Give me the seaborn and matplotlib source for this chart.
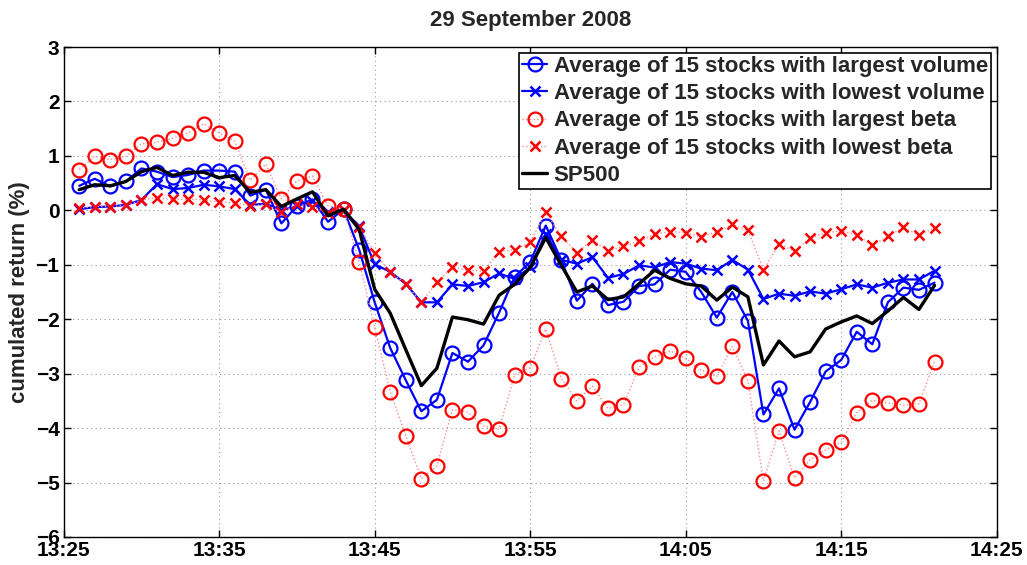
import pandas as pd
import matplotlib
matplotlib.use('Agg')
import matplotlib.pyplot as plt
import matplotlib.dates as mdates
import seaborn as sns

# one value per minute, 13:26 -> 14:21
times = pd.date_range('2008-09-29 13:26', '2008-09-29 14:21', freq='min')

largest_volume = [
    0.45, 0.58, 0.44, 0.53, 0.77, 0.71, 0.61, 0.65, 0.73, 0.73,
    0.71, 0.27, 0.38, -0.24, 0.08, 0.20, -0.21, 0.02, -0.72, -1.69,
    -2.53, -3.12, -3.69, -3.48, -2.62, -2.78, -2.48, -1.88, -1.22, -0.95,
    -0.28, -0.91, -1.66, -1.35, -1.74, -1.68, -1.39, -1.36, -1.09, -1.13,
    -1.50, -1.97, -1.50, -2.03, -3.75, -3.27, -4.03, -3.52, -2.96, -2.75,
    -2.23, -2.46, -1.69, -1.42, -1.46, -1.33,
]

lowest_volume = [
    0.02, 0.06, 0.07, 0.10, 0.19, 0.48, 0.39, 0.41, 0.47, 0.44,
    0.39, 0.10, 0.12, 0.00, 0.08, 0.17, -0.03, 0.00, -0.29, -0.99,
    -1.13, -1.35, -1.69, -1.69, -1.36, -1.39, -1.32, -1.16, -1.26, -1.05,
    -0.43, -0.91, -0.98, -0.86, -1.24, -1.17, -1.01, -1.05, -0.95, -0.98,
    -1.07, -1.10, -0.91, -1.09, -1.63, -1.53, -1.57, -1.49, -1.53, -1.45,
    -1.36, -1.42, -1.33, -1.27, -1.27, -1.11,
]

largest_beta = [
    0.75, 0.99, 0.93, 0.99, 1.22, 1.25, 1.32, 1.42, 1.59, 1.42,
    1.27, 0.55, 0.85, 0.21, 0.54, 0.63, 0.08, 0.02, -0.94, -2.15,
    -3.33, -4.14, -4.93, -4.69, -3.66, -3.71, -3.96, -4.02, -3.02, -2.89,
    -2.18, -3.09, -3.50, -3.23, -3.64, -3.57, -2.88, -2.69, -2.58, -2.72,
    -2.94, -3.05, -2.50, -3.13, -4.97, -4.05, -4.92, -4.58, -4.40, -4.26,
    -3.72, -3.49, -3.54, -3.58, -3.55, -2.78,
]

lowest_beta = [
    0.04, 0.07, 0.07, 0.09, 0.19, 0.23, 0.20, 0.21, 0.19, 0.15,
    0.14, 0.08, 0.11, -0.03, 0.11, 0.07, -0.04, 0.00, -0.30, -0.79,
    -1.13, -1.35, -1.69, -1.32, -1.04, -1.10, -1.12, -0.76, -0.72, -0.59,
    -0.03, -0.48, -0.78, -0.54, -0.75, -0.66, -0.57, -0.44, -0.39, -0.41,
    -0.49, -0.40, -0.26, -0.37, -1.09, -0.62, -0.75, -0.51, -0.41, -0.38,
    -0.45, -0.64, -0.48, -0.31, -0.46, -0.32,
]

sp500 = [
    0.38, 0.47, 0.45, 0.53, 0.71, 0.79, 0.64, 0.70, 0.70, 0.60,
    0.64, 0.33, 0.38, 0.07, 0.21, 0.34, -0.10, 0.02, -0.35, -1.45,
    -1.89, -2.56, -3.22, -2.90, -1.96, -2.01, -2.09, -1.56, -1.36, -1.05,
    -0.50, -1.01, -1.50, -1.39, -1.64, -1.59, -1.35, -1.10, -1.25, -1.35,
    -1.39, -1.65, -1.41, -1.59, -2.84, -2.40, -2.69, -2.60, -2.18, -2.05,
    -1.94, -2.08, -1.85, -1.60, -1.82, -1.38,
]

sns.set_theme(style='ticks')
plt.rcParams['font.family'] = ['Liberation Sans', 'DejaVu Sans']
plt.rcParams['font.weight'] = 'bold'
plt.rcParams['axes.titleweight'] = 'bold'
plt.rcParams['axes.labelweight'] = 'bold'

fig, ax = plt.subplots(figsize=(10.27, 5.65), dpi=100)
fig.subplots_adjust(left=0.062, right=0.9705, top=0.9168, bottom=0.0496)

sns.lineplot(x=times, y=largest_volume, ax=ax, color='blue', linewidth=1.6,
             marker='o', markersize=10, markerfacecolor='none',
             markeredgecolor='blue', markeredgewidth=1.6,
             label='Average of 15 stocks with largest volume')
sns.lineplot(x=times, y=lowest_volume, ax=ax, color='blue', linewidth=1.6,
             marker='x', markersize=7, markeredgecolor='blue',
             markeredgewidth=1.8,
             label='Average of 15 stocks with lowest volume')
sns.lineplot(x=times, y=largest_beta, ax=ax, color='#ff8c8c', linewidth=1.0,
             linestyle=':', marker='o', markersize=10, markerfacecolor='none',
             markeredgecolor='red', markeredgewidth=1.6,
             label='Average of 15 stocks with largest beta')
sns.lineplot(x=times, y=lowest_beta, ax=ax, color='#ff8c8c', linewidth=1.0,
             linestyle=':', marker='x', markersize=7, markeredgecolor='red',
             markeredgewidth=1.8,
             label='Average of 15 stocks with lowest beta')
sns.lineplot(x=times, y=sp500, ax=ax, color='black', linewidth=2.4,
             label='SP500')

ax.set_xlim(pd.Timestamp('2008-09-29 13:25'), pd.Timestamp('2008-09-29 14:25'))
ax.set_ylim(-6, 3)
ax.set_yticks(range(-6, 4))
ax.xaxis.set_major_locator(mdates.MinuteLocator(byminute=[5, 15, 25, 35, 45, 55]))
ax.xaxis.set_major_formatter(mdates.DateFormatter('%H:%M'))

ax.grid(True, linestyle=(0, (1, 3)), color='0.6', linewidth=0.8)
ax.tick_params(direction='in', length=5, width=1, top=True, right=True,
               labelsize=15, pad=3, colors='black')
for s in ax.spines.values():
    s.set_color('black')
    s.set_linewidth(1.0)

ax.set_xlabel('')
ax.set_ylabel('cumulated return (%)', fontsize=16, labelpad=4)
ax.set_title('29 September 2008', fontsize=16, pad=15)

leg = ax.legend(loc='upper right', fontsize=16, frameon=True, fancybox=False,
                edgecolor='black', framealpha=1, borderaxespad=0.25,
                borderpad=0.15, handlelength=1.1, handletextpad=0.3,
                labelspacing=0.28)
leg.get_frame().set_linewidth(1.2)

fig.savefig('out.png', dpi=100)
